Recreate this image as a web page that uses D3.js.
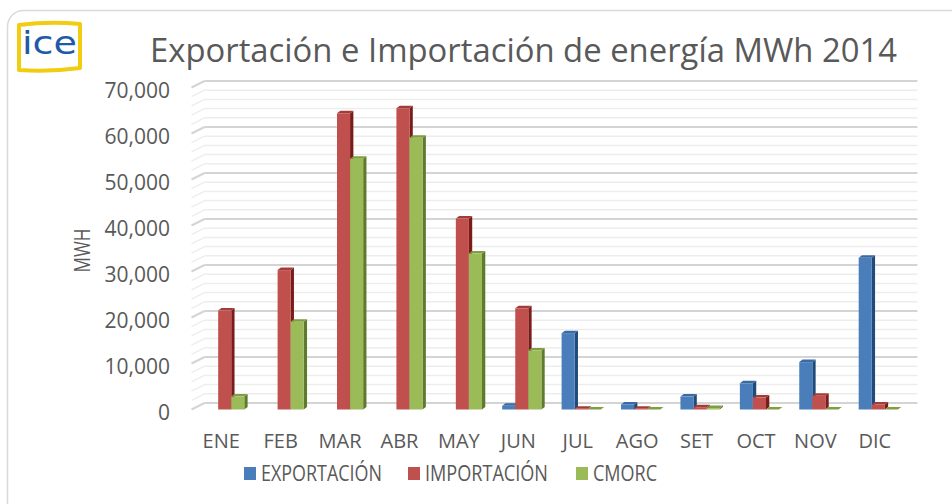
<!DOCTYPE html>
<html>
<head>
<meta charset="utf-8">
<script src="https://cdn.jsdelivr.net/npm/d3@7"></script>
<style>
html,body{margin:0;padding:0;background:#fff;}
svg{display:block;}
text{font-family:"Open Sans","Noto Sans",sans-serif;fill:#595959;}
</style>
</head>
<body>
<svg id="chart" width="952" height="504"></svg>
<script>
const months = ["ENE","FEB","MAR","ABR","MAY","JUN","JUL","AGO","SET","OCT","NOV","DIC"];
const seriesNames = ["EXPORTACIÓN","IMPORTACIÓN","CMORC"];
const exportacion = [null,null,null,null,null,800,16600,1100,2800,5700,10300,33000];
const importacion = [21500,30300,64400,65500,41500,22000,150,150,500,2600,3000,1100];
const cmorc = [2800,19100,54500,59100,33900,12800,0,0,300,0,0,0];
const yTicks = [0,10000,20000,30000,40000,50000,60000,70000];
const minorStep = 2000;
const titleText = "Exportación e Importación de energía MWh 2014";
const yTitle = "MWH";

const colors = {
  front:["#4a7ebb","#c0504d","#9bbb59"],
  side:["#1f4a7c","#7a1c1a","#5e7a2c"],
  top:["#3a6aa3","#a33c39","#7f9e3f"]
};

const svg = d3.select("#chart");

// outer rounded border
svg.append("rect").attr("x",7.5).attr("y",10.5).attr("width",980).attr("height",520)
  .attr("rx",16).attr("fill","#fff").attr("stroke","#d9d9d9").attr("stroke-width",1.5);

// logo
const logo = svg.append("g");
logo.append("path").attr("d","M19,25 Q50,21 80,24 L80,68 Q50,72 19,70 Z")
  .attr("fill","#fff").attr("stroke","#f2cc10").attr("stroke-width",4).attr("stroke-linejoin","round");
logo.append("text").attr("x",22).attr("y",54).attr("textLength",55).attr("lengthAdjust","spacingAndGlyphs")
  .style("font-family","'DejaVu Sans',sans-serif").style("font-size","32px").style("fill","#1f5aa8")
  .text("ice");

// title
svg.append("text").attr("x",523.5).attr("y",62).attr("text-anchor","middle")
  .attr("textLength",747).attr("lengthAdjust","spacingAndGlyphs")
  .style("font-size","32px").text(titleText);

// geometry
const x0 = 191.5, x1 = 904.5, y0 = 409.5;
const depthX = 13, depthY = -6.5;
const barDX = 3.3, barDY = -2.5;
const y = d3.scaleLinear().domain([0,70000]).range([y0, y0 - 7*46]);
const x = d3.scaleBand().domain(months).range([x0, x1]).paddingInner(0.34).paddingOuter(0.17);
const xs = d3.scaleBand().domain(seriesNames).range([0, x.bandwidth()]);

// gridlines (minor then major) on back wall + left side diagonals
const minorVals = d3.range(0, 70001, minorStep).filter(v => v % 10000 !== 0);
const grid = svg.append("g");
function gridLine(v, col, w){
  const yy = y(v);
  grid.append("line").attr("x1",x0).attr("y1",yy).attr("x2",x0+depthX).attr("y2",yy+depthY)
    .attr("stroke",col).attr("stroke-width",w);
  grid.append("line").attr("x1",x0+depthX).attr("y1",yy+depthY).attr("x2",x1+depthX).attr("y2",yy+depthY)
    .attr("stroke",col).attr("stroke-width",w);
}
minorVals.forEach(v => gridLine(v,"#ededed",1.5));
yTicks.forEach(v => gridLine(v,"#d4d4d4",2));

// y axis labels via d3 axis
const yAxis = d3.axisLeft(y).tickValues(yTicks).tickSize(0).tickPadding(0)
  .tickFormat(d3.format(","));
const yg = svg.append("g").attr("transform","translate(170,3)").call(yAxis);
yg.select(".domain").remove();
yg.selectAll("text").style("font-size","21px").style("fill","#595959")
  .style("font-family","'Open Sans','Noto Sans',sans-serif");

// y title
svg.append("text").attr("transform","translate(90,250.5) rotate(-90)").attr("text-anchor","middle")
  .attr("textLength",44).attr("lengthAdjust","spacingAndGlyphs")
  .style("font-size","22px").text(yTitle);

// x axis labels
const xAxis = d3.axisBottom(x).tickSize(0).tickPadding(0);
const xg = svg.append("g").attr("transform","translate(0,434)").call(xAxis);
xg.select(".domain").remove();
xg.selectAll("text").style("font-size","20px").style("fill","#595959")
  .style("font-family","'Open Sans','Noto Sans',sans-serif");

// bars
const seriesData = [exportacion, importacion, cmorc];
const bars = svg.append("g");
months.forEach((m, i) => {
  seriesData.forEach((arr, s) => {
    const v = arr[i];
    if (v === null || v === undefined) return;
    const bx = x(m) + xs(seriesNames[s]) + 3.5;
    const w = xs.bandwidth();
    const yt = y(v);
    const g = bars.append("g");
    g.append("path").attr("d",`M${bx+w},${yt} L${bx+w+barDX},${yt+barDY} L${bx+w+barDX},${y0+barDY} L${bx+w},${y0} Z`)
      .attr("fill",colors.side[s]);
    g.append("path").attr("d",`M${bx},${yt} L${bx+barDX},${yt+barDY} L${bx+w+barDX},${yt+barDY} L${bx+w},${yt} Z`)
      .attr("fill",colors.top[s]);
    g.append("rect").attr("x",bx).attr("y",yt).attr("width",w).attr("height",Math.max(0,y0-yt))
      .attr("fill",colors.front[s]);
  });
});

// legend
const legendX = [244, 408, 576];
const legendW = [121, 123, 64];
const lg = svg.append("g");
seriesNames.forEach((n, s) => {
  lg.append("rect").attr("x",legendX[s]).attr("y",467).attr("width",12).attr("height",13).attr("fill",colors.front[s]);
  lg.append("text").attr("x",legendX[s]+17).attr("y",481).attr("textLength",legendW[s])
    .attr("lengthAdjust","spacingAndGlyphs").style("font-size","21.5px").text(n);
});
</script>
</body>
</html>
